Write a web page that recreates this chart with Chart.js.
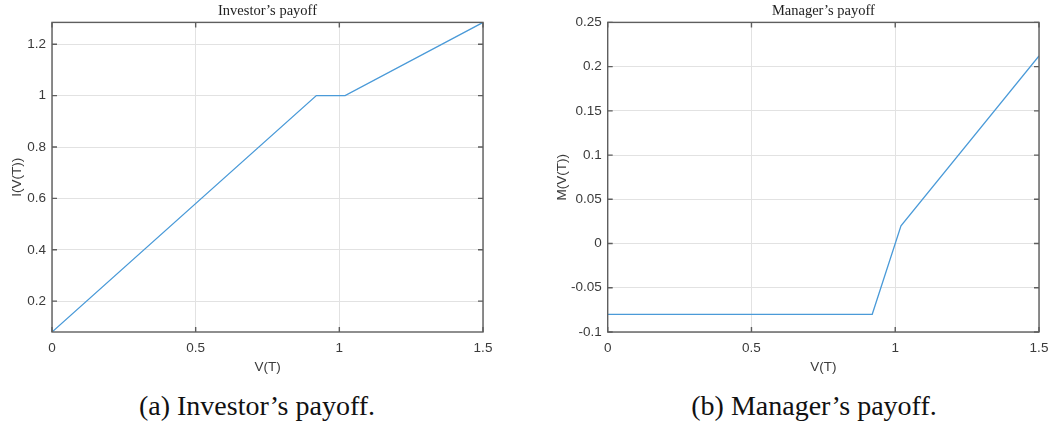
<!DOCTYPE html>
<html>
<head>
<meta charset="utf-8">
<script src="https://cdn.jsdelivr.net/npm/chart.js@4"></script>
<style>
  html, body { margin: 0; padding: 0; background: #fff; }
  body { width: 1049px; height: 426px; position: relative; overflow: hidden; }
  .plot { position: absolute; top: 0; height: 380px; }
  .caption {
    position: absolute; top: 390px; line-height: 32px; text-align: center;
    font-family: "Liberation Serif", serif; font-size: 28px; color: #111;
  }
</style>
</head>
<body>
<div class="plot" style="left:0;width:510px"><canvas id="investor"></canvas></div>
<div class="plot" style="left:545px;width:504px"><canvas id="manager"></canvas></div>
<div class="caption" style="left:57px;width:400px">(a) Investor’s payoff.</div>
<div class="caption" style="left:614px;width:400px">(b) Manager’s payoff.</div>
<script>
// payoff at maturity as a function of fund value V(T)
const fundValue = [0, 0.92, 1.02, 1.5];
const investorPayoff = [0.08, 1, 1, 1.285];
const managerPayoff = [-0.08, -0.08, 0.02, 0.212];

const xTicks = [0, 0.5, 1, 1.5];
const investorTicks = [0.2, 0.4, 0.6, 0.8, 1, 1.2];
const managerTicks = [-0.1, -0.05, 0, 0.05, 0.1, 0.15, 0.2, 0.25];

const tickFont = { family: 'Liberation Sans, Arial, sans-serif', size: 13.5 };
const tickColor = '#3b3b3b';
const gridColor = '#e2e2e2';

// matlab-ish axes box with inward tick marks on all four sides
const boxPlugin = {
  id: 'axesBox',
  afterDatasetsDraw(chart) {
    const { ctx, chartArea: a, scales } = chart;
    ctx.save();
    ctx.strokeStyle = '#5e5e5e';
    ctx.lineWidth = 1.4;
    ctx.beginPath();
    scales.x.ticks.forEach(t => {
      const px = scales.x.getPixelForValue(t.value);
      ctx.moveTo(px, a.bottom); ctx.lineTo(px, a.bottom - 5);
      ctx.moveTo(px, a.top); ctx.lineTo(px, a.top + 5);
    });
    scales.y.ticks.forEach(t => {
      const py = scales.y.getPixelForValue(t.value);
      ctx.moveTo(a.left, py); ctx.lineTo(a.left + 5, py);
      ctx.moveTo(a.right, py); ctx.lineTo(a.right - 5, py);
    });
    ctx.stroke();
    ctx.strokeRect(a.left, a.top, a.right - a.left, a.bottom - a.top);
    ctx.restore();
  }
};

function makeChart(id, title, yLabel, values, yMin, yMax, yTicks, yWidth, padRight) {
  return new Chart(document.getElementById(id), {
    type: 'line',
    data: {
      datasets: [{
        data: fundValue.map((v, i) => ({ x: v, y: values[i] })),
        borderColor: '#4a9ad8',
        borderWidth: 1.3,
        pointRadius: 0,
        tension: 0,
        fill: false
      }]
    },
    options: {
      responsive: true,
      maintainAspectRatio: false,
      animation: false,
      layout: { padding: { left: 0, right: padRight, top: 0, bottom: 0 } },
      plugins: {
        legend: { display: false },
        tooltip: { enabled: false },
        title: {
          display: true,
          text: title,
          fullSize: false,
          color: '#222',
          font: { family: 'Liberation Serif, serif', size: 14.5, weight: 'normal' },
          padding: { top: 2, bottom: 3 }
        }
      },
      scales: {
        x: {
          type: 'linear',
          min: 0,
          max: 1.5,
          // fixed height, and no extra room reserved for the end labels
          afterFit: s => { s.height = 48; s.paddingLeft = 0; s.paddingRight = 0; },
          afterBuildTicks: s => { s.ticks = xTicks.map(v => ({ value: v })); },
          ticks: { font: tickFont, color: tickColor, padding: 8, maxRotation: 0, callback: v => String(v) },
          grid: { color: gridColor, drawTicks: false },
          border: { display: false },
          title: { display: true, text: 'V(T)', color: tickColor, font: tickFont, padding: { top: 0, bottom: 5 } }
        },
        y: {
          type: 'linear',
          min: yMin,
          max: yMax,
          afterFit: s => { s.width = yWidth; },
          afterBuildTicks: s => { s.ticks = yTicks.map(v => ({ value: v })); },
          ticks: { font: tickFont, color: tickColor, padding: 6, callback: v => String(v) },
          grid: { color: gridColor, drawTicks: false },
          border: { display: false },
          title: { display: true, text: yLabel, color: tickColor, font: tickFont, padding: { top: 9, bottom: 0 } }
        }
      }
    },
    plugins: [boxPlugin]
  });
}

makeChart('investor', 'Investor’s payoff', 'I(V(T))', investorPayoff, 0.08, 1.285, investorTicks, 52, 27);
makeChart('manager', 'Manager’s payoff', 'M(V(T))', managerPayoff, -0.1, 0.25, managerTicks, 62.7, 10);
</script>
</body>
</html>
